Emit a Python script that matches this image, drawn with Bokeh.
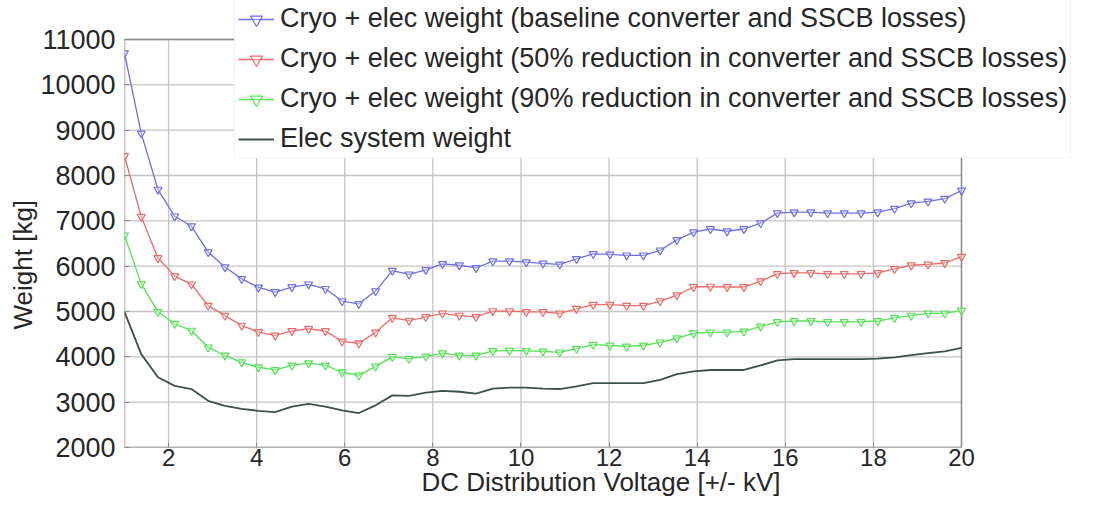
from bokeh.plotting import figure
from bokeh.models import Legend, LegendItem, FixedTicker, Range1d, Title
from bokeh.embed import file_html
from bokeh.resources import INLINE

voltage = [1.00, 1.38, 1.76, 2.14, 2.52, 2.90, 3.28, 3.66, 4.04, 4.42, 4.80, 5.18, 5.56,
           5.94, 6.32, 6.70, 7.08, 7.46, 7.84, 8.22, 8.60, 8.98, 9.36, 9.74, 10.12, 10.50,
           10.88, 11.26, 11.64, 12.02, 12.40, 12.78, 13.16, 13.54, 13.92, 14.30, 14.68,
           15.06, 15.44, 15.82, 16.20, 16.58, 16.96, 17.34, 17.72, 18.10, 18.48, 18.86,
           19.24, 19.62, 20.00]

baseline = [10700, 8930, 7690, 7100, 6880, 6310, 5980, 5720, 5530, 5430, 5540, 5600, 5500,
            5230, 5170, 5450, 5900, 5820, 5920, 6050, 6020, 5960, 6110, 6110, 6090, 6060,
            6040, 6160, 6270, 6260, 6240, 6240, 6350, 6580, 6750, 6820, 6770, 6820, 6950,
            7170, 7190, 7190, 7170, 7170, 7170, 7190, 7270, 7390, 7430, 7490, 7670]

red50 = [8430, 7090, 6180, 5780, 5600, 5130, 4910, 4690, 4550, 4470, 4570, 4620, 4570,
         4340, 4300, 4540, 4860, 4800, 4880, 4960, 4910, 4880, 5010, 5010, 4990, 4990,
         4960, 5060, 5150, 5150, 5130, 5130, 5230, 5360, 5540, 5550, 5540, 5540, 5670,
         5830, 5850, 5850, 5830, 5830, 5830, 5850, 5940, 6020, 6040, 6070, 6210]

red90 = [6680, 5610, 4990, 4730, 4580, 4210, 4030, 3880, 3770, 3710, 3810, 3860, 3810,
         3660, 3590, 3790, 4000, 3960, 4010, 4080, 4030, 4030, 4130, 4140, 4130, 4120,
         4100, 4180, 4270, 4250, 4230, 4250, 4320, 4410, 4520, 4540, 4540, 4560, 4670,
         4770, 4790, 4790, 4770, 4770, 4770, 4790, 4860, 4910, 4960, 4960, 5020]

elec = [4990, 4060, 3550, 3360, 3290, 3030, 2920, 2850, 2810, 2780, 2900, 2960, 2900,
        2820, 2760, 2930, 3150, 3140, 3210, 3250, 3230, 3190, 3300, 3320, 3320, 3300,
        3290, 3350, 3420, 3420, 3420, 3420, 3490, 3620, 3680, 3710, 3710, 3710, 3810,
        3920, 3950, 3950, 3950, 3950, 3950, 3960, 3990, 4040, 4080, 4120, 4200]

labels = [
    "Cryo + elec weight (baseline converter and SSCB losses)",
    "Cryo + elec weight (50% reduction in converter and SSCB losses)",
    "Cryo + elec weight (90% reduction in converter and SSCB losses)",
    "Elec system weight",
]
x_ticks = [2, 4, 6, 8, 10, 12, 14, 16, 18, 20]
y_ticks = [2000, 3000, 4000, 5000, 6000, 7000, 8000, 9000, 10000, 11000]
x_lo, x_hi = 1, 20
y_lo, y_hi = 2000, 11000

FONT = "Liberation Sans"
TXT = "#262626"
GRID = "#c4c4c4"
EDGE = "#8c8c8c"

# Axes box occupies 837 x 408 px; the frame is extended to the right and top
# so that the legend (which sticks out of the axes box) is not clipped.
W, H = 1077, 502
LEFT, BOTTOM = 124, 55
BOX_W, BOX_H = 837, 408
frame_w = W - LEFT
frame_h = H - BOTTOM
x_end = x_lo + (x_hi - x_lo) * frame_w / BOX_W
y_end = y_lo + (y_hi - y_lo) * frame_h / BOX_H

p = figure(width=W, height=H, x_range=Range1d(x_lo, x_end), y_range=Range1d(y_lo, y_end),
           output_backend="svg", toolbar_location=None,
           min_border_left=LEFT, min_border_right=0, min_border_top=0,
           min_border_bottom=BOTTOM)

p.background_fill_color = "white"
p.border_fill_color = "white"
p.outline_line_color = None
p.xgrid.visible = False
p.ygrid.visible = False

for ax in (p.xaxis[0], p.yaxis[0]):
    ax.axis_line_color = None
    ax.major_tick_in = 5
    ax.major_tick_out = 0
    ax.minor_tick_line_color = None
    ax.major_tick_line_color = EDGE
    ax.major_label_text_font = FONT
    ax.major_label_text_color = TXT
    ax.axis_label_text_font = FONT
    ax.axis_label_text_font_style = "normal"
    ax.axis_label_text_color = TXT

p.yaxis.major_label_text_font_size = "27px"
p.xaxis.major_label_text_font_size = "24px"
p.xaxis.axis_label_text_font_size = "26px"

p.xaxis.ticker = FixedTicker(ticks=x_ticks)
p.yaxis.ticker = FixedTicker(ticks=y_ticks)
p.xaxis.axis_label = "DC Distribution Voltage [+/- kV]"
p.xaxis.major_label_standoff = 1
p.xaxis.axis_label_standoff = -2
p.yaxis.major_label_standoff = 9

# y axis title, placed level with the reference (shifted below the axis centre)
p.add_layout(Title(text="Weight [kg]", align="left", offset=118, standoff=0,
                   text_font=FONT, text_font_size="26px", text_font_style="normal",
                   text_color=TXT), "left")

# grid lines inside the axes box
p.segment(x0=x_ticks, y0=y_lo, x1=x_ticks, y1=y_hi, line_color=GRID, line_width=1.3)
p.segment(x0=x_lo, y0=y_ticks, x1=x_hi, y1=y_ticks, line_color=GRID, line_width=1.3)
# axes box
p.quad(left=[x_lo], right=[x_hi], bottom=[y_lo], top=[y_hi], fill_color=None,
       line_color=EDGE, line_width=1.5)

series = [
    (baseline, "#6e6ee2"),
    (red50, "#ec6a6a"),
    (red90, "#55e255"),
]
items = []
for (vals, col), lab in zip(series, labels[:3]):
    ln = p.line(voltage, vals, line_color=col, line_width=1.3)
    sc = p.scatter(voltage, vals, marker="inverted_triangle", size=8,
                   line_color=col, fill_color="white", fill_alpha=0.3, line_width=1.2)
    items.append(LegendItem(label=lab, renderers=[ln, sc]))

le = p.line(voltage, elec, line_color="#3f5046", line_width=1.8)
items.append(LegendItem(label=labels[3], renderers=[le]))

legend = Legend(items=items, location=(110, 289),
                label_text_font=FONT, label_text_font_size="27px",
                label_text_color=TXT, glyph_width=36, glyph_height=30,
                label_height=30, spacing=9, padding=3, margin=0,
                label_standoff=6, border_line_color="#e6e6e6",
                background_fill_color="white", background_fill_alpha=1.0)
p.add_layout(legend, "center")

open("out.html", "w").write(file_html(p, INLINE))
